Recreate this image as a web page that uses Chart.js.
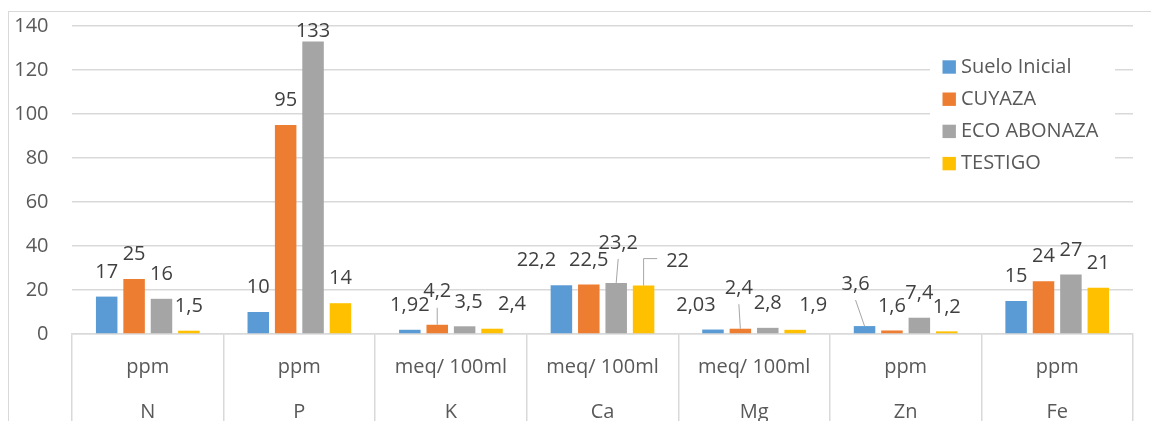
<!DOCTYPE html>
<html>
<head>
<meta charset="utf-8">
<script src="https://cdn.jsdelivr.net/npm/chart.js@4/dist/chart.umd.min.js"></script>
<style>
  html, body { margin: 0; padding: 0; background: #ffffff; }
  #wrap { width: 1151px; height: 421px; position: relative; }
</style>
</head>
<body>
<div id="wrap"><canvas id="c" width="1151" height="421"></canvas></div>
<script>
// Soil analysis: nutrient levels per treatment
const elements = ['N', 'P', 'K', 'Ca', 'Mg', 'Zn', 'Fe'];
const units = ['ppm', 'ppm', 'meq/ 100ml', 'meq/ 100ml', 'meq/ 100ml', 'ppm', 'ppm'];
const seriesNames = ['Suelo Inicial', 'CUYAZA', 'ECO ABONAZA', 'TESTIGO'];
const sueloInicial = [17, 10, 1.92, 22.2, 2.03, 3.6, 15];
const cuyaza = [25, 95, 4.2, 22.5, 2.4, 1.6, 24];
const ecoAbonaza = [16, 133, 3.5, 23.2, 2.8, 7.4, 27];
const testigo = [1.5, 14, 2.4, 22, 1.9, 1.2, 21];
const yTicks = [0, 20, 40, 60, 80, 100, 120, 140];

const colors = ['#5B9BD5', '#ED7D31', '#A5A5A5', '#FFC000'];
const FONT = '"Open Sans", "Liberation Sans", sans-serif';

// Hand-placed data labels (pixel nudges from the default spot above each bar),
// some of them tied back to their bar with a leader line.
const labelNudge = {
  '2,1': { dx: 0, dy: 14 },
  '1,2': { dx: 0, dy: -8.5, leader: 'line' },
  '2,2': { dx: 4, dy: 0 },
  '3,2': { dx: 20, dy: 0 },
  '0,3': { dx: -25, dy: 0 },
  '2,3': { dx: 2, dy: -15.5, leader: 'line' },
  '3,3': { dx: 34, dy: 0, leader: 'elbow' },
  '0,4': { dx: -17, dy: 0 },
  '1,4': { dx: -1.5, dy: -16, leader: 'line' },
  '3,4': { dx: 18, dy: 0 },
  '0,5': { dx: -9, dy: -17.5, leader: 'line' }
};

const outerFrame = {
  id: 'outerFrame',
  beforeDraw(chart) {
    const ctx = chart.ctx;
    ctx.save();
    ctx.fillStyle = '#ffffff';
    ctx.fillRect(0, 0, chart.width, chart.height);
    ctx.strokeStyle = '#D9D9D9';
    ctx.lineWidth = 1;
    ctx.strokeRect(8.5, 11.5, chart.width + 20, chart.height + 20);
    ctx.restore();
  }
};

const valueLabels = {
  id: 'valueLabels',
  afterDatasetsDraw(chart) {
    const ctx = chart.ctx;
    ctx.save();
    ctx.font = '20px ' + FONT;
    ctx.textAlign = 'center';
    ctx.textBaseline = 'middle';
    chart.data.datasets.forEach((ds, di) => {
      const meta = chart.getDatasetMeta(di);
      meta.data.forEach((bar, i) => {
        const v = ds.data[i];
        const txt = String(v).replace('.', ',');
        const n = labelNudge[di + ',' + i] || { dx: 0, dy: 0 };
        const lx = bar.x + n.dx;
        const ly = bar.y - 24.5 + n.dy;
        if (n.leader) {
          ctx.strokeStyle = '#A6A6A6';
          ctx.lineWidth = 1;
          ctx.beginPath();
          if (n.leader === 'line') {
            ctx.moveTo(bar.x, bar.y);
            ctx.lineTo(lx, ly + 16);
          } else {
            const w = ctx.measureText(txt).width;
            ctx.moveTo(bar.x, bar.y);
            ctx.lineTo(bar.x, ly - 2.5);
            ctx.lineTo(lx - w / 2 - 9, ly - 2.5);
          }
          ctx.stroke();
        }
        ctx.fillStyle = '#404040';
        ctx.fillText(txt, lx, ly);
      });
    });
    ctx.restore();
  }
};

const insetLegend = {
  id: 'insetLegend',
  afterDatasetsDraw(chart) {
    const ctx = chart.ctx;
    const area = chart.chartArea;
    const boxLeft = area.right - 203;
    const top = 50;
    ctx.save();
    ctx.fillStyle = '#ffffff';
    ctx.fillRect(boxLeft, top, 185, 132);
    ctx.font = '20px ' + FONT;
    ctx.textAlign = 'left';
    ctx.textBaseline = 'middle';
    chart.data.datasets.forEach((ds, di) => {
      const cy = top + 17 + di * 32.2;
      ctx.fillStyle = ds.backgroundColor;
      ctx.fillRect(boxLeft + 12.5, cy - 6.7, 13.4, 13.4);
      ctx.fillStyle = '#595959';
      ctx.fillText(ds.label, boxLeft + 31, cy);
    });
    ctx.restore();
  }
};

const seriesData = [sueloInicial, cuyaza, ecoAbonaza, testigo];

new Chart(document.getElementById('c'), {
  type: 'bar',
  data: {
    labels: units.map((u, i) => [u, elements[i]]),
    datasets: seriesNames.map((name, i) => ({
      label: name,
      data: seriesData[i],
      backgroundColor: colors[i],
      borderWidth: 0,
      categoryPercentage: 0.723,
      barPercentage: 0.785
    }))
  },
  options: {
    responsive: false,
    animation: false,
    devicePixelRatio: 1,
    layout: { padding: { top: 26, right: 18, bottom: 0, left: 0 } },
    plugins: {
      legend: { display: false },
      tooltip: { enabled: false }
    },
    scales: {
      x: {
        offset: true,
        grid: {
          display: true,
          offset: true,
          drawOnChartArea: false,
          drawTicks: true,
          tickLength: 90,
          color: '#D9D9D9',
          lineWidth: 1.5
        },
        border: { display: true, color: '#D9D9D9', width: 1.5 },
        ticks: {
          autoSkip: false,
          maxRotation: 0,
          minRotation: 0,
          padding: 10.5 - 90,
          color: '#595959',
          font: { family: FONT, size: 20, lineHeight: 2.25 }
        },
        afterFit(scale) { scale.height = 87; }
      },
      y: {
        min: 0,
        max: 140,
        afterBuildTicks(scale) { scale.ticks = yTicks.map(v => ({ value: v })); },
        grid: { color: '#D9D9D9', lineWidth: 1.5, drawTicks: false },
        border: { display: false },
        ticks: {
          padding: 23.5,
          color: '#595959',
          font: { family: FONT, size: 20 }
        },
        afterFit(scale) {
          scale.width = 72;
          scale.paddingTop = 0;
          scale.paddingBottom = 0;
        }
      }
    }
  },
  plugins: [outerFrame, valueLabels, insetLegend]
});
</script>
</body>
</html>
